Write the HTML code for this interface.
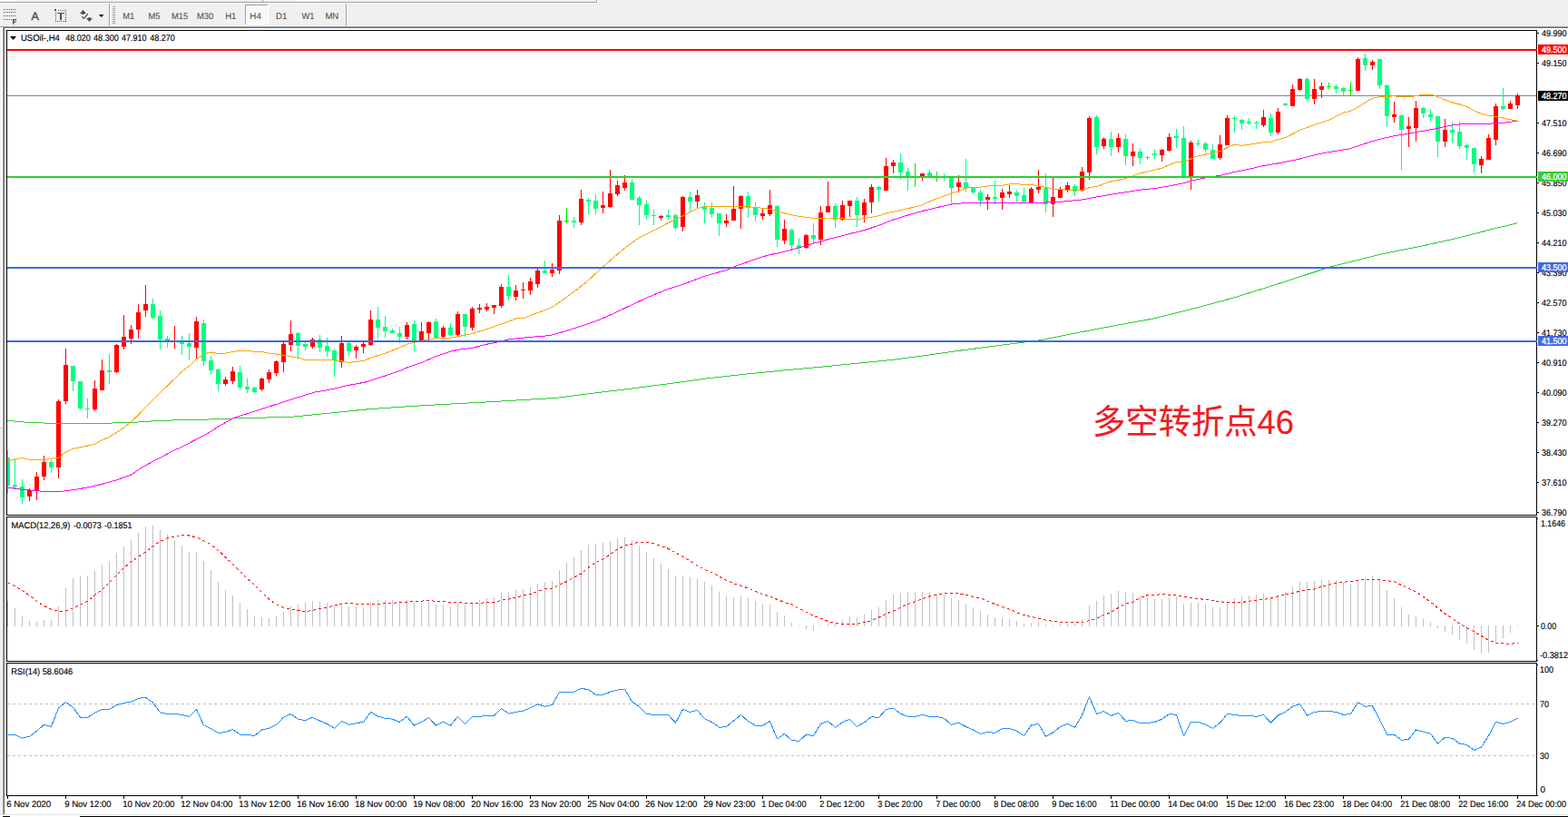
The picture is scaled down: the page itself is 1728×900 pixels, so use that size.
<!DOCTYPE html>
<html><head><meta charset="utf-8"><title>USOil H4</title>
<style>
html,body{margin:0;padding:0;width:1728px;height:900px;overflow:hidden;background:#fff}
body{font-family:"Liberation Sans",sans-serif;position:relative}
text{font-family:"Liberation Sans",sans-serif;white-space:pre}
</style></head><body>
<svg width="1728" height="900" viewBox="0 0 1728 900" style="position:absolute;left:0;top:0" shape-rendering="crispEdges">
<rect x="0" y="0" width="1728" height="900" fill="#fff"/>
<rect x="0" y="0" width="1728" height="29" fill="#f0f0f0"/>
<rect x="0" y="2" width="658" height="1" fill="#a0a0a0"/>
<rect x="657" y="0" width="1" height="3" fill="#a0a0a0"/>
<rect x="0" y="3" width="659" height="1" fill="#fff"/>
<rect x="658" y="0" width="1" height="3" fill="#fff"/>
<rect x="0" y="0" width="20" height="2" fill="#f8f8f8"/>
<rect x="327" y="0" width="26" height="2" fill="#fafafa"/>
<rect x="289" y="0" width="1" height="2" fill="#a0a0a0"/>
<rect x="0" y="29" width="1728" height="1" fill="#a0a0a0"/>
<rect x="3" y="30" width="1725" height="1" fill="#696969"/>
<rect x="0" y="31" width="3" height="866" fill="#f0f0f0"/>
<rect x="0" y="30" width="3" height="1" fill="#fff"/>
<rect x="3" y="30" width="1" height="867" fill="#a0a0a0"/>
<rect x="4" y="31" width="1" height="866" fill="#696969"/>
<rect x="1" y="31" width="2" height="440" fill="#fafafa"/>
<rect x="0" y="471" width="3" height="1" fill="#c8c8c8"/>
<rect x="0" y="897" width="1728" height="1" fill="#e3e3e3"/>
<rect x="88" y="899" width="1640" height="1" fill="#000"/>
<rect x="3" y="899" width="8" height="1" fill="#000"/>
<rect x="4" y="10" width="1" height="1" fill="#505050"/>
<rect x="6" y="10" width="1" height="1" fill="#505050"/>
<rect x="8" y="10" width="1" height="1" fill="#505050"/>
<rect x="10" y="10" width="1" height="1" fill="#505050"/>
<rect x="12" y="10" width="1" height="1" fill="#505050"/>
<rect x="14" y="10" width="1" height="1" fill="#505050"/>
<rect x="16" y="10" width="1" height="1" fill="#505050"/>
<rect x="4" y="13" width="1" height="1" fill="#505050"/>
<rect x="6" y="13" width="1" height="1" fill="#505050"/>
<rect x="8" y="13" width="1" height="1" fill="#505050"/>
<rect x="10" y="13" width="1" height="1" fill="#505050"/>
<rect x="12" y="13" width="1" height="1" fill="#505050"/>
<rect x="14" y="13" width="1" height="1" fill="#505050"/>
<rect x="16" y="13" width="1" height="1" fill="#505050"/>
<rect x="4" y="17" width="1" height="1" fill="#505050"/>
<rect x="6" y="17" width="1" height="1" fill="#505050"/>
<rect x="8" y="17" width="1" height="1" fill="#505050"/>
<rect x="10" y="17" width="1" height="1" fill="#505050"/>
<rect x="12" y="17" width="1" height="1" fill="#505050"/>
<rect x="14" y="17" width="1" height="1" fill="#505050"/>
<rect x="16" y="17" width="1" height="1" fill="#505050"/>
<rect x="4" y="21" width="1" height="1" fill="#505050"/>
<rect x="6" y="21" width="1" height="1" fill="#505050"/>
<rect x="8" y="21" width="1" height="1" fill="#505050"/>
<rect x="10" y="21" width="1" height="1" fill="#505050"/>
<rect x="12" y="21" width="1" height="1" fill="#505050"/>
<path d="M14 21h4.2v1.3h-2.8v1.2h2.4v1.2h-2.4v2.1H14z" fill="#505050" shape-rendering="auto"/>
<rect x="60" y="10" width="2" height="2" fill="#505050"/>
<rect x="64" y="11" width="1" height="1" fill="#505050"/>
<rect x="66" y="11" width="1" height="1" fill="#505050"/>
<rect x="68" y="11" width="1" height="1" fill="#505050"/>
<rect x="70" y="11" width="1" height="1" fill="#505050"/>
<rect x="72" y="11" width="1" height="1" fill="#505050"/>
<rect x="61" y="13" width="1" height="1" fill="#505050"/>
<rect x="72" y="13" width="1" height="1" fill="#505050"/>
<rect x="61" y="15" width="1" height="1" fill="#505050"/>
<rect x="72" y="15" width="1" height="1" fill="#505050"/>
<rect x="61" y="17" width="1" height="1" fill="#505050"/>
<rect x="72" y="17" width="1" height="1" fill="#505050"/>
<rect x="61" y="19" width="1" height="1" fill="#505050"/>
<rect x="72" y="19" width="1" height="1" fill="#505050"/>
<rect x="61" y="21" width="1" height="1" fill="#505050"/>
<rect x="72" y="21" width="1" height="1" fill="#505050"/>
<rect x="61" y="23" width="1" height="1" fill="#505050"/>
<rect x="72" y="23" width="1" height="1" fill="#505050"/>
<rect x="63" y="23" width="1" height="1" fill="#505050"/>
<rect x="65" y="23" width="1" height="1" fill="#505050"/>
<rect x="67" y="23" width="1" height="1" fill="#505050"/>
<rect x="69" y="23" width="1" height="1" fill="#505050"/>
<rect x="71" y="23" width="1" height="1" fill="#505050"/>
<rect x="63" y="14" width="8" height="1" fill="#505050"/>
<rect x="66" y="14" width="2" height="8" fill="#505050"/>
<g shape-rendering="auto" fill="#505050"><path d="M91.5 10.8L95 15H88z"/><rect x="90.2" y="15" width="2.6" height="1"/><path d="M98.5 24L95 20.1h7z"/><rect x="97.3" y="19.2" width="2.6" height="1"/><path d="M90.3 18.3l2.3 2.1 4.3-5.3" fill="none" stroke="#505050" stroke-width="1.3"/></g>
<path d="M109 16h5.4l-2.7 3z" fill="#000" shape-rendering="auto"/>
<rect x="120" y="4" width="1" height="25" fill="#a0a0a0"/>
<rect x="121" y="4" width="1" height="25" fill="#fff"/>
<rect x="124" y="7" width="3" height="1" fill="#a0a0a0"/>
<rect x="124" y="9" width="3" height="1" fill="#a0a0a0"/>
<rect x="124" y="11" width="3" height="1" fill="#a0a0a0"/>
<rect x="124" y="13" width="3" height="1" fill="#a0a0a0"/>
<rect x="124" y="15" width="3" height="1" fill="#a0a0a0"/>
<rect x="124" y="17" width="3" height="1" fill="#a0a0a0"/>
<rect x="124" y="19" width="3" height="1" fill="#a0a0a0"/>
<rect x="124" y="21" width="3" height="1" fill="#a0a0a0"/>
<rect x="124" y="23" width="3" height="1" fill="#a0a0a0"/>
<rect x="124" y="25" width="3" height="1" fill="#a0a0a0"/>
<rect x="381" y="4" width="1" height="25" fill="#a0a0a0"/>
<rect x="382" y="4" width="1" height="25" fill="#fff"/>
<rect x="270" y="5" width="26" height="22" fill="#f8f8f8"/>
<rect x="270" y="5" width="26" height="1" fill="#a0a0a0"/>
<rect x="270" y="5" width="1" height="22" fill="#a0a0a0"/>
<rect x="270" y="26" width="26" height="1" fill="#fff"/>
<rect x="295" y="5" width="1" height="22" fill="#fff"/>
<rect x="7" y="33" width="1687" height="1" fill="#000"/>
<rect x="7" y="567" width="1687" height="1" fill="#000"/>
<rect x="7" y="569" width="1687" height="1" fill="#000"/>
<rect x="7" y="728" width="1687" height="1" fill="#000"/>
<rect x="7" y="730" width="1687" height="1" fill="#000"/>
<rect x="7" y="876" width="1687" height="1" fill="#000"/>
<rect x="7" y="33" width="1" height="535" fill="#000"/>
<rect x="1693" y="33" width="1" height="535" fill="#000"/>
<rect x="7" y="569" width="1" height="160" fill="#000"/>
<rect x="1693" y="569" width="1" height="160" fill="#000"/>
<rect x="7" y="730" width="1" height="147" fill="#000"/>
<rect x="1693" y="730" width="1" height="147" fill="#000"/>
<rect x="1694" y="876" width="1" height="1" fill="#000"/>
<clipPath id="cm"><rect x="8" y="34" width="1685" height="533"/></clipPath>
<rect x="8" y="105" width="1685" height="1" fill="#778899"/>
<g clip-path="url(#cm)">
<rect x="8" y="496" width="1" height="48" fill="#00ff7f"/>
<rect x="6" y="504" width="5" height="31" fill="#00ff7f"/>
<rect x="16" y="506" width="1" height="32" fill="#00ff7f"/>
<rect x="14" y="534" width="5" height="2" fill="#00ff7f"/>
<rect x="24" y="528" width="1" height="27" fill="#00ff7f"/>
<rect x="22" y="536" width="5" height="12" fill="#00ff7f"/>
<rect x="32" y="538" width="1" height="14" fill="#ff0000"/>
<rect x="30" y="540" width="5" height="7" fill="#ff0000"/>
<rect x="40" y="520" width="1" height="31" fill="#ff0000"/>
<rect x="38" y="525" width="5" height="15" fill="#ff0000"/>
<rect x="48" y="502" width="1" height="27" fill="#ff0000"/>
<rect x="46" y="509" width="5" height="16" fill="#ff0000"/>
<rect x="56" y="507" width="1" height="14" fill="#00ff7f"/>
<rect x="54" y="509" width="5" height="6" fill="#00ff7f"/>
<rect x="64" y="440" width="1" height="87" fill="#ff0000"/>
<rect x="62" y="442" width="5" height="73" fill="#ff0000"/>
<rect x="72" y="384" width="1" height="61" fill="#ff0000"/>
<rect x="70" y="402" width="5" height="40" fill="#ff0000"/>
<rect x="80" y="403" width="1" height="28" fill="#00ff7f"/>
<rect x="78" y="403" width="5" height="17" fill="#00ff7f"/>
<rect x="88" y="420" width="1" height="31" fill="#00ff7f"/>
<rect x="86" y="420" width="5" height="30" fill="#00ff7f"/>
<rect x="96" y="439" width="1" height="22" fill="#00ff7f"/>
<rect x="94" y="450" width="5" height="1" fill="#00ff7f"/>
<rect x="104" y="419" width="1" height="34" fill="#ff0000"/>
<rect x="102" y="428" width="5" height="23" fill="#ff0000"/>
<rect x="112" y="396" width="1" height="34" fill="#ff0000"/>
<rect x="110" y="408" width="5" height="22" fill="#ff0000"/>
<rect x="120" y="390" width="1" height="33" fill="#00ff7f"/>
<rect x="118" y="408" width="5" height="2" fill="#00ff7f"/>
<rect x="128" y="379" width="1" height="32" fill="#ff0000"/>
<rect x="126" y="380" width="5" height="30" fill="#ff0000"/>
<rect x="136" y="347" width="1" height="38" fill="#ff0000"/>
<rect x="134" y="371" width="5" height="11" fill="#ff0000"/>
<rect x="144" y="358" width="1" height="21" fill="#ff0000"/>
<rect x="142" y="363" width="5" height="10" fill="#ff0000"/>
<rect x="152" y="335" width="1" height="38" fill="#ff0000"/>
<rect x="150" y="344" width="5" height="19" fill="#ff0000"/>
<rect x="160" y="314" width="1" height="35" fill="#ff0000"/>
<rect x="158" y="335" width="5" height="7" fill="#ff0000"/>
<rect x="168" y="329" width="1" height="23" fill="#00ff7f"/>
<rect x="166" y="335" width="5" height="15" fill="#00ff7f"/>
<rect x="176" y="342" width="1" height="43" fill="#00ff7f"/>
<rect x="174" y="348" width="5" height="26" fill="#00ff7f"/>
<rect x="184" y="370" width="1" height="13" fill="#00ff7f"/>
<rect x="182" y="373" width="5" height="2" fill="#00ff7f"/>
<rect x="192" y="359" width="1" height="25" fill="#ff0000"/>
<rect x="190" y="375" width="5" height="2" fill="#ff0000"/>
<rect x="200" y="370" width="1" height="21" fill="#00ff7f"/>
<rect x="198" y="377" width="5" height="2" fill="#00ff7f"/>
<rect x="208" y="367" width="1" height="30" fill="#00ff7f"/>
<rect x="206" y="378" width="5" height="4" fill="#00ff7f"/>
<rect x="216" y="349" width="1" height="46" fill="#ff0000"/>
<rect x="214" y="354" width="5" height="29" fill="#ff0000"/>
<rect x="224" y="352" width="1" height="51" fill="#00ff7f"/>
<rect x="222" y="356" width="5" height="42" fill="#00ff7f"/>
<rect x="232" y="392" width="1" height="21" fill="#00ff7f"/>
<rect x="230" y="397" width="5" height="11" fill="#00ff7f"/>
<rect x="240" y="406" width="1" height="25" fill="#00ff7f"/>
<rect x="238" y="407" width="5" height="16" fill="#00ff7f"/>
<rect x="248" y="415" width="1" height="10" fill="#ff0000"/>
<rect x="246" y="418" width="5" height="5" fill="#ff0000"/>
<rect x="256" y="404" width="1" height="19" fill="#ff0000"/>
<rect x="254" y="409" width="5" height="11" fill="#ff0000"/>
<rect x="264" y="403" width="1" height="27" fill="#00ff7f"/>
<rect x="262" y="410" width="5" height="17" fill="#00ff7f"/>
<rect x="272" y="417" width="1" height="16" fill="#00ff7f"/>
<rect x="270" y="426" width="5" height="3" fill="#00ff7f"/>
<rect x="280" y="426" width="1" height="7" fill="#00ff7f"/>
<rect x="278" y="427" width="5" height="5" fill="#00ff7f"/>
<rect x="288" y="416" width="1" height="15" fill="#ff0000"/>
<rect x="286" y="417" width="5" height="12" fill="#ff0000"/>
<rect x="296" y="407" width="1" height="15" fill="#ff0000"/>
<rect x="294" y="410" width="5" height="8" fill="#ff0000"/>
<rect x="304" y="397" width="1" height="17" fill="#ff0000"/>
<rect x="302" y="398" width="5" height="13" fill="#ff0000"/>
<rect x="312" y="377" width="1" height="33" fill="#ff0000"/>
<rect x="310" y="379" width="5" height="20" fill="#ff0000"/>
<rect x="320" y="353" width="1" height="34" fill="#ff0000"/>
<rect x="318" y="368" width="5" height="12" fill="#ff0000"/>
<rect x="328" y="366" width="1" height="28" fill="#00ff7f"/>
<rect x="326" y="367" width="5" height="14" fill="#00ff7f"/>
<rect x="336" y="377" width="1" height="9" fill="#00ff7f"/>
<rect x="334" y="379" width="5" height="3" fill="#00ff7f"/>
<rect x="344" y="372" width="1" height="12" fill="#ff0000"/>
<rect x="342" y="374" width="5" height="8" fill="#ff0000"/>
<rect x="352" y="369" width="1" height="19" fill="#00ff7f"/>
<rect x="350" y="374" width="5" height="9" fill="#00ff7f"/>
<rect x="360" y="372" width="1" height="21" fill="#00ff7f"/>
<rect x="358" y="381" width="5" height="6" fill="#00ff7f"/>
<rect x="368" y="384" width="1" height="31" fill="#00ff7f"/>
<rect x="366" y="386" width="5" height="11" fill="#00ff7f"/>
<rect x="376" y="370" width="1" height="35" fill="#ff0000"/>
<rect x="374" y="378" width="5" height="21" fill="#ff0000"/>
<rect x="384" y="377" width="1" height="15" fill="#00ff7f"/>
<rect x="382" y="378" width="5" height="9" fill="#00ff7f"/>
<rect x="392" y="380" width="1" height="15" fill="#ff0000"/>
<rect x="390" y="382" width="5" height="4" fill="#ff0000"/>
<rect x="400" y="377" width="1" height="12" fill="#ff0000"/>
<rect x="398" y="379" width="5" height="3" fill="#ff0000"/>
<rect x="408" y="342" width="1" height="39" fill="#ff0000"/>
<rect x="406" y="352" width="5" height="28" fill="#ff0000"/>
<rect x="416" y="338" width="1" height="35" fill="#00ff7f"/>
<rect x="414" y="352" width="5" height="9" fill="#00ff7f"/>
<rect x="424" y="348" width="1" height="24" fill="#00ff7f"/>
<rect x="422" y="360" width="5" height="5" fill="#00ff7f"/>
<rect x="432" y="362" width="1" height="5" fill="#00ff7f"/>
<rect x="430" y="364" width="5" height="3" fill="#00ff7f"/>
<rect x="440" y="360" width="1" height="18" fill="#00ff7f"/>
<rect x="438" y="367" width="5" height="4" fill="#00ff7f"/>
<rect x="448" y="355" width="1" height="19" fill="#ff0000"/>
<rect x="446" y="358" width="5" height="13" fill="#ff0000"/>
<rect x="456" y="353" width="1" height="34" fill="#00ff7f"/>
<rect x="454" y="357" width="5" height="19" fill="#00ff7f"/>
<rect x="464" y="355" width="1" height="22" fill="#ff0000"/>
<rect x="462" y="365" width="5" height="10" fill="#ff0000"/>
<rect x="472" y="354" width="1" height="21" fill="#ff0000"/>
<rect x="470" y="355" width="5" height="12" fill="#ff0000"/>
<rect x="480" y="351" width="1" height="22" fill="#00ff7f"/>
<rect x="478" y="354" width="5" height="18" fill="#00ff7f"/>
<rect x="488" y="359" width="1" height="13" fill="#ff0000"/>
<rect x="486" y="361" width="5" height="10" fill="#ff0000"/>
<rect x="496" y="356" width="1" height="14" fill="#00ff7f"/>
<rect x="494" y="361" width="5" height="8" fill="#00ff7f"/>
<rect x="504" y="343" width="1" height="27" fill="#ff0000"/>
<rect x="502" y="346" width="5" height="23" fill="#ff0000"/>
<rect x="512" y="346" width="1" height="25" fill="#00ff7f"/>
<rect x="510" y="346" width="5" height="14" fill="#00ff7f"/>
<rect x="520" y="338" width="1" height="26" fill="#ff0000"/>
<rect x="518" y="340" width="5" height="21" fill="#ff0000"/>
<rect x="528" y="335" width="1" height="10" fill="#ff0000"/>
<rect x="526" y="339" width="5" height="2" fill="#ff0000"/>
<rect x="536" y="334" width="1" height="9" fill="#ff0000"/>
<rect x="534" y="338" width="5" height="3" fill="#ff0000"/>
<rect x="544" y="336" width="1" height="10" fill="#ff0000"/>
<rect x="542" y="336" width="5" height="3" fill="#ff0000"/>
<rect x="552" y="313" width="1" height="26" fill="#ff0000"/>
<rect x="550" y="316" width="5" height="21" fill="#ff0000"/>
<rect x="560" y="303" width="1" height="28" fill="#00ff7f"/>
<rect x="558" y="316" width="5" height="10" fill="#00ff7f"/>
<rect x="568" y="314" width="1" height="17" fill="#ff0000"/>
<rect x="566" y="320" width="5" height="7" fill="#ff0000"/>
<rect x="576" y="311" width="1" height="18" fill="#ff0000"/>
<rect x="574" y="319" width="5" height="1" fill="#ff0000"/>
<rect x="584" y="306" width="1" height="19" fill="#ff0000"/>
<rect x="582" y="310" width="5" height="10" fill="#ff0000"/>
<rect x="592" y="296" width="1" height="21" fill="#ff0000"/>
<rect x="590" y="298" width="5" height="15" fill="#ff0000"/>
<rect x="600" y="287" width="1" height="14" fill="#00ff7f"/>
<rect x="598" y="298" width="5" height="3" fill="#00ff7f"/>
<rect x="608" y="290" width="1" height="15" fill="#ff0000"/>
<rect x="606" y="297" width="5" height="4" fill="#ff0000"/>
<rect x="616" y="237" width="1" height="65" fill="#ff0000"/>
<rect x="614" y="243" width="5" height="55" fill="#ff0000"/>
<rect x="624" y="229" width="1" height="17" fill="#00e600"/>
<rect x="622" y="243" width="5" height="1" fill="#00e600"/>
<rect x="632" y="239" width="1" height="12" fill="#00ff7f"/>
<rect x="630" y="243" width="5" height="2" fill="#00ff7f"/>
<rect x="640" y="209" width="1" height="39" fill="#ff0000"/>
<rect x="638" y="219" width="5" height="26" fill="#ff0000"/>
<rect x="648" y="218" width="1" height="18" fill="#00ff7f"/>
<rect x="646" y="220" width="5" height="2" fill="#00ff7f"/>
<rect x="656" y="214" width="1" height="22" fill="#00ff7f"/>
<rect x="654" y="221" width="5" height="9" fill="#00ff7f"/>
<rect x="664" y="211" width="1" height="24" fill="#ff0000"/>
<rect x="662" y="226" width="5" height="3" fill="#ff0000"/>
<rect x="672" y="187" width="1" height="42" fill="#ff0000"/>
<rect x="670" y="213" width="5" height="15" fill="#ff0000"/>
<rect x="680" y="199" width="1" height="17" fill="#ff0000"/>
<rect x="678" y="204" width="5" height="10" fill="#ff0000"/>
<rect x="688" y="193" width="1" height="17" fill="#ff0000"/>
<rect x="686" y="201" width="5" height="6" fill="#ff0000"/>
<rect x="696" y="197" width="1" height="23" fill="#00ff7f"/>
<rect x="694" y="201" width="5" height="19" fill="#00ff7f"/>
<rect x="704" y="216" width="1" height="32" fill="#00ff7f"/>
<rect x="702" y="218" width="5" height="8" fill="#00ff7f"/>
<rect x="712" y="221" width="1" height="21" fill="#00ff7f"/>
<rect x="710" y="225" width="5" height="12" fill="#00ff7f"/>
<rect x="720" y="231" width="1" height="17" fill="#00ff7f"/>
<rect x="718" y="237" width="5" height="1" fill="#00ff7f"/>
<rect x="728" y="237" width="1" height="6" fill="#ff0000"/>
<rect x="726" y="238" width="5" height="2" fill="#ff0000"/>
<rect x="736" y="231" width="1" height="11" fill="#00ff7f"/>
<rect x="734" y="237" width="5" height="2" fill="#00ff7f"/>
<rect x="744" y="235" width="1" height="18" fill="#00ff7f"/>
<rect x="742" y="237" width="5" height="14" fill="#00ff7f"/>
<rect x="752" y="216" width="1" height="39" fill="#ff0000"/>
<rect x="750" y="217" width="5" height="33" fill="#ff0000"/>
<rect x="760" y="211" width="1" height="22" fill="#00ff7f"/>
<rect x="758" y="217" width="5" height="5" fill="#00ff7f"/>
<rect x="768" y="209" width="1" height="20" fill="#ff0000"/>
<rect x="766" y="215" width="5" height="7" fill="#ff0000"/>
<rect x="776" y="223" width="1" height="23" fill="#00ff7f"/>
<rect x="774" y="227" width="5" height="4" fill="#00ff7f"/>
<rect x="784" y="223" width="1" height="17" fill="#00ff7f"/>
<rect x="782" y="229" width="5" height="7" fill="#00ff7f"/>
<rect x="792" y="235" width="1" height="25" fill="#00ff7f"/>
<rect x="790" y="235" width="5" height="11" fill="#00ff7f"/>
<rect x="800" y="236" width="1" height="14" fill="#ff0000"/>
<rect x="798" y="243" width="5" height="3" fill="#ff0000"/>
<rect x="808" y="205" width="1" height="38" fill="#ff0000"/>
<rect x="806" y="230" width="5" height="13" fill="#ff0000"/>
<rect x="816" y="215" width="1" height="37" fill="#ff0000"/>
<rect x="814" y="216" width="5" height="14" fill="#ff0000"/>
<rect x="824" y="212" width="1" height="28" fill="#00ff7f"/>
<rect x="822" y="216" width="5" height="13" fill="#00ff7f"/>
<rect x="832" y="223" width="1" height="21" fill="#00ff7f"/>
<rect x="830" y="228" width="5" height="9" fill="#00ff7f"/>
<rect x="840" y="230" width="1" height="12" fill="#ff0000"/>
<rect x="838" y="235" width="5" height="3" fill="#ff0000"/>
<rect x="848" y="209" width="1" height="29" fill="#ff0000"/>
<rect x="846" y="226" width="5" height="10" fill="#ff0000"/>
<rect x="856" y="226" width="1" height="46" fill="#00ff7f"/>
<rect x="854" y="227" width="5" height="37" fill="#00ff7f"/>
<rect x="864" y="242" width="1" height="27" fill="#ff0000"/>
<rect x="862" y="252" width="5" height="13" fill="#ff0000"/>
<rect x="872" y="252" width="1" height="23" fill="#00ff7f"/>
<rect x="870" y="253" width="5" height="17" fill="#00ff7f"/>
<rect x="880" y="262" width="1" height="18" fill="#00ff7f"/>
<rect x="878" y="270" width="5" height="3" fill="#00ff7f"/>
<rect x="888" y="258" width="1" height="16" fill="#ff0000"/>
<rect x="886" y="259" width="5" height="14" fill="#ff0000"/>
<rect x="896" y="246" width="1" height="23" fill="#00ff7f"/>
<rect x="894" y="259" width="5" height="4" fill="#00ff7f"/>
<rect x="904" y="227" width="1" height="43" fill="#ff0000"/>
<rect x="902" y="234" width="5" height="30" fill="#ff0000"/>
<rect x="912" y="200" width="1" height="34" fill="#ff0000"/>
<rect x="910" y="227" width="5" height="7" fill="#ff0000"/>
<rect x="920" y="224" width="1" height="27" fill="#00ff7f"/>
<rect x="918" y="227" width="5" height="15" fill="#00ff7f"/>
<rect x="928" y="221" width="1" height="22" fill="#ff0000"/>
<rect x="926" y="226" width="5" height="16" fill="#ff0000"/>
<rect x="936" y="221" width="1" height="18" fill="#ff0000"/>
<rect x="934" y="221" width="5" height="6" fill="#ff0000"/>
<rect x="944" y="217" width="1" height="33" fill="#00ff7f"/>
<rect x="942" y="221" width="5" height="16" fill="#00ff7f"/>
<rect x="952" y="219" width="1" height="26" fill="#ff0000"/>
<rect x="950" y="223" width="5" height="14" fill="#ff0000"/>
<rect x="960" y="203" width="1" height="32" fill="#ff0000"/>
<rect x="958" y="206" width="5" height="17" fill="#ff0000"/>
<rect x="968" y="205" width="1" height="17" fill="#00ff7f"/>
<rect x="966" y="206" width="5" height="3" fill="#00ff7f"/>
<rect x="976" y="174" width="1" height="36" fill="#ff0000"/>
<rect x="974" y="183" width="5" height="27" fill="#ff0000"/>
<rect x="984" y="176" width="1" height="15" fill="#ff0000"/>
<rect x="982" y="179" width="5" height="4" fill="#ff0000"/>
<rect x="992" y="169" width="1" height="29" fill="#00ff7f"/>
<rect x="990" y="179" width="5" height="11" fill="#00ff7f"/>
<rect x="1000" y="185" width="1" height="25" fill="#00ff7f"/>
<rect x="998" y="189" width="5" height="6" fill="#00ff7f"/>
<rect x="1008" y="180" width="1" height="26" fill="#00e600"/>
<rect x="1006" y="195" width="5" height="1" fill="#00e600"/>
<rect x="1016" y="191" width="1" height="8" fill="#ff0000"/>
<rect x="1014" y="191" width="5" height="3" fill="#ff0000"/>
<rect x="1024" y="187" width="1" height="9" fill="#00ff7f"/>
<rect x="1022" y="190" width="5" height="4" fill="#00ff7f"/>
<rect x="1032" y="189" width="1" height="11" fill="#00e600"/>
<rect x="1030" y="195" width="5" height="1" fill="#00e600"/>
<rect x="1040" y="191" width="1" height="9" fill="#00ff7f"/>
<rect x="1038" y="195" width="5" height="1" fill="#00ff7f"/>
<rect x="1048" y="195" width="1" height="28" fill="#00ff7f"/>
<rect x="1046" y="195" width="5" height="12" fill="#00ff7f"/>
<rect x="1056" y="193" width="1" height="19" fill="#ff0000"/>
<rect x="1054" y="201" width="5" height="5" fill="#ff0000"/>
<rect x="1064" y="175" width="1" height="36" fill="#00ff7f"/>
<rect x="1062" y="201" width="5" height="6" fill="#00ff7f"/>
<rect x="1072" y="206" width="1" height="8" fill="#00ff7f"/>
<rect x="1070" y="207" width="5" height="5" fill="#00ff7f"/>
<rect x="1080" y="209" width="1" height="18" fill="#00ff7f"/>
<rect x="1078" y="212" width="5" height="9" fill="#00ff7f"/>
<rect x="1088" y="214" width="1" height="17" fill="#ff0000"/>
<rect x="1086" y="217" width="5" height="3" fill="#ff0000"/>
<rect x="1096" y="199" width="1" height="26" fill="#00ff7f"/>
<rect x="1094" y="217" width="5" height="2" fill="#00ff7f"/>
<rect x="1104" y="208" width="1" height="23" fill="#ff0000"/>
<rect x="1102" y="212" width="5" height="6" fill="#ff0000"/>
<rect x="1112" y="204" width="1" height="14" fill="#ff0000"/>
<rect x="1110" y="211" width="5" height="3" fill="#ff0000"/>
<rect x="1120" y="209" width="1" height="13" fill="#00ff7f"/>
<rect x="1118" y="212" width="5" height="4" fill="#00ff7f"/>
<rect x="1128" y="207" width="1" height="16" fill="#00ff7f"/>
<rect x="1126" y="215" width="5" height="7" fill="#00ff7f"/>
<rect x="1136" y="206" width="1" height="17" fill="#ff0000"/>
<rect x="1134" y="208" width="5" height="15" fill="#ff0000"/>
<rect x="1144" y="187" width="1" height="26" fill="#ff0000"/>
<rect x="1142" y="206" width="5" height="3" fill="#ff0000"/>
<rect x="1152" y="191" width="1" height="43" fill="#00ff7f"/>
<rect x="1150" y="207" width="5" height="18" fill="#00ff7f"/>
<rect x="1160" y="195" width="1" height="44" fill="#ff0000"/>
<rect x="1158" y="217" width="5" height="8" fill="#ff0000"/>
<rect x="1168" y="206" width="1" height="12" fill="#ff0000"/>
<rect x="1166" y="209" width="5" height="9" fill="#ff0000"/>
<rect x="1176" y="201" width="1" height="11" fill="#ff0000"/>
<rect x="1174" y="204" width="5" height="5" fill="#ff0000"/>
<rect x="1184" y="203" width="1" height="13" fill="#00ff7f"/>
<rect x="1182" y="205" width="5" height="5" fill="#00ff7f"/>
<rect x="1192" y="184" width="1" height="27" fill="#ff0000"/>
<rect x="1190" y="189" width="5" height="21" fill="#ff0000"/>
<rect x="1200" y="128" width="1" height="70" fill="#ff0000"/>
<rect x="1198" y="130" width="5" height="60" fill="#ff0000"/>
<rect x="1208" y="127" width="1" height="43" fill="#00ff7f"/>
<rect x="1206" y="129" width="5" height="33" fill="#00ff7f"/>
<rect x="1216" y="151" width="1" height="13" fill="#ff0000"/>
<rect x="1214" y="153" width="5" height="8" fill="#ff0000"/>
<rect x="1224" y="145" width="1" height="27" fill="#00ff7f"/>
<rect x="1222" y="153" width="5" height="9" fill="#00ff7f"/>
<rect x="1232" y="147" width="1" height="21" fill="#ff0000"/>
<rect x="1230" y="152" width="5" height="10" fill="#ff0000"/>
<rect x="1240" y="148" width="1" height="34" fill="#00ff7f"/>
<rect x="1238" y="153" width="5" height="19" fill="#00ff7f"/>
<rect x="1248" y="158" width="1" height="25" fill="#ff0000"/>
<rect x="1246" y="167" width="5" height="5" fill="#ff0000"/>
<rect x="1256" y="163" width="1" height="18" fill="#00ff7f"/>
<rect x="1254" y="167" width="5" height="7" fill="#00ff7f"/>
<rect x="1264" y="172" width="1" height="4" fill="#00ff7f"/>
<rect x="1262" y="173" width="5" height="1" fill="#00ff7f"/>
<rect x="1272" y="164" width="1" height="11" fill="#00ff7f"/>
<rect x="1270" y="169" width="5" height="2" fill="#00ff7f"/>
<rect x="1280" y="164" width="1" height="14" fill="#ff0000"/>
<rect x="1278" y="165" width="5" height="6" fill="#ff0000"/>
<rect x="1288" y="147" width="1" height="20" fill="#ff0000"/>
<rect x="1286" y="151" width="5" height="15" fill="#ff0000"/>
<rect x="1296" y="142" width="1" height="21" fill="#00ff7f"/>
<rect x="1294" y="150" width="5" height="2" fill="#00ff7f"/>
<rect x="1304" y="139" width="1" height="56" fill="#00ff7f"/>
<rect x="1302" y="152" width="5" height="43" fill="#00ff7f"/>
<rect x="1312" y="155" width="1" height="54" fill="#ff0000"/>
<rect x="1310" y="157" width="5" height="38" fill="#ff0000"/>
<rect x="1320" y="154" width="1" height="7" fill="#00ff7f"/>
<rect x="1318" y="158" width="5" height="1" fill="#00ff7f"/>
<rect x="1328" y="156" width="1" height="12" fill="#00ff7f"/>
<rect x="1326" y="158" width="5" height="7" fill="#00ff7f"/>
<rect x="1336" y="159" width="1" height="16" fill="#00ff7f"/>
<rect x="1334" y="165" width="5" height="10" fill="#00ff7f"/>
<rect x="1344" y="149" width="1" height="27" fill="#ff0000"/>
<rect x="1342" y="159" width="5" height="15" fill="#ff0000"/>
<rect x="1352" y="127" width="1" height="33" fill="#ff0000"/>
<rect x="1350" y="130" width="5" height="30" fill="#ff0000"/>
<rect x="1360" y="128" width="1" height="18" fill="#00ff7f"/>
<rect x="1358" y="130" width="5" height="1" fill="#00ff7f"/>
<rect x="1368" y="131" width="1" height="12" fill="#00ff7f"/>
<rect x="1366" y="132" width="5" height="4" fill="#00ff7f"/>
<rect x="1376" y="130" width="1" height="8" fill="#00ff7f"/>
<rect x="1374" y="134" width="5" height="2" fill="#00ff7f"/>
<rect x="1384" y="133" width="1" height="9" fill="#00ff7f"/>
<rect x="1382" y="135" width="5" height="1" fill="#00ff7f"/>
<rect x="1392" y="121" width="1" height="19" fill="#ff0000"/>
<rect x="1390" y="129" width="5" height="9" fill="#ff0000"/>
<rect x="1400" y="125" width="1" height="25" fill="#00ff7f"/>
<rect x="1398" y="130" width="5" height="16" fill="#00ff7f"/>
<rect x="1408" y="119" width="1" height="29" fill="#ff0000"/>
<rect x="1406" y="123" width="5" height="23" fill="#ff0000"/>
<rect x="1416" y="113" width="1" height="4" fill="#00ff7f"/>
<rect x="1414" y="114" width="5" height="2" fill="#00ff7f"/>
<rect x="1424" y="93" width="1" height="24" fill="#ff0000"/>
<rect x="1422" y="98" width="5" height="19" fill="#ff0000"/>
<rect x="1432" y="86" width="1" height="14" fill="#ff0000"/>
<rect x="1430" y="87" width="5" height="12" fill="#ff0000"/>
<rect x="1440" y="85" width="1" height="26" fill="#00ff7f"/>
<rect x="1438" y="87" width="5" height="22" fill="#00ff7f"/>
<rect x="1448" y="87" width="1" height="28" fill="#ff0000"/>
<rect x="1446" y="98" width="5" height="11" fill="#ff0000"/>
<rect x="1456" y="91" width="1" height="17" fill="#ff0000"/>
<rect x="1454" y="95" width="5" height="4" fill="#ff0000"/>
<rect x="1464" y="91" width="1" height="7" fill="#00e600"/>
<rect x="1462" y="95" width="5" height="1" fill="#00e600"/>
<rect x="1472" y="93" width="1" height="10" fill="#00ff7f"/>
<rect x="1470" y="95" width="5" height="3" fill="#00ff7f"/>
<rect x="1480" y="96" width="1" height="10" fill="#00ff7f"/>
<rect x="1478" y="97" width="5" height="4" fill="#00ff7f"/>
<rect x="1488" y="90" width="1" height="15" fill="#00e600"/>
<rect x="1486" y="99" width="5" height="1" fill="#00e600"/>
<rect x="1496" y="63" width="1" height="37" fill="#ff0000"/>
<rect x="1494" y="65" width="5" height="35" fill="#ff0000"/>
<rect x="1504" y="59" width="1" height="19" fill="#00ff7f"/>
<rect x="1502" y="64" width="5" height="8" fill="#00ff7f"/>
<rect x="1512" y="66" width="1" height="11" fill="#ff0000"/>
<rect x="1510" y="68" width="5" height="4" fill="#ff0000"/>
<rect x="1520" y="65" width="1" height="33" fill="#00ff7f"/>
<rect x="1518" y="65" width="5" height="29" fill="#00ff7f"/>
<rect x="1528" y="93" width="1" height="47" fill="#00ff7f"/>
<rect x="1526" y="94" width="5" height="34" fill="#00ff7f"/>
<rect x="1536" y="112" width="1" height="23" fill="#ff0000"/>
<rect x="1534" y="126" width="5" height="3" fill="#ff0000"/>
<rect x="1544" y="126" width="1" height="61" fill="#00ff7f"/>
<rect x="1542" y="127" width="5" height="16" fill="#00ff7f"/>
<rect x="1552" y="129" width="1" height="33" fill="#ff0000"/>
<rect x="1550" y="139" width="5" height="3" fill="#ff0000"/>
<rect x="1560" y="111" width="1" height="45" fill="#ff0000"/>
<rect x="1558" y="119" width="5" height="22" fill="#ff0000"/>
<rect x="1568" y="118" width="1" height="12" fill="#00ff7f"/>
<rect x="1566" y="119" width="5" height="6" fill="#00ff7f"/>
<rect x="1576" y="121" width="1" height="13" fill="#00ff7f"/>
<rect x="1574" y="126" width="5" height="3" fill="#00ff7f"/>
<rect x="1584" y="128" width="1" height="45" fill="#00ff7f"/>
<rect x="1582" y="128" width="5" height="28" fill="#00ff7f"/>
<rect x="1592" y="131" width="1" height="31" fill="#ff0000"/>
<rect x="1590" y="143" width="5" height="13" fill="#ff0000"/>
<rect x="1600" y="135" width="1" height="23" fill="#00ff7f"/>
<rect x="1598" y="143" width="5" height="3" fill="#00ff7f"/>
<rect x="1608" y="134" width="1" height="30" fill="#00ff7f"/>
<rect x="1606" y="145" width="5" height="16" fill="#00ff7f"/>
<rect x="1616" y="158" width="1" height="18" fill="#00ff7f"/>
<rect x="1614" y="160" width="5" height="3" fill="#00ff7f"/>
<rect x="1624" y="163" width="1" height="27" fill="#00ff7f"/>
<rect x="1622" y="163" width="5" height="18" fill="#00ff7f"/>
<rect x="1632" y="172" width="1" height="19" fill="#ff0000"/>
<rect x="1630" y="175" width="5" height="7" fill="#ff0000"/>
<rect x="1640" y="148" width="1" height="28" fill="#ff0000"/>
<rect x="1638" y="152" width="5" height="24" fill="#ff0000"/>
<rect x="1648" y="114" width="1" height="46" fill="#ff0000"/>
<rect x="1646" y="117" width="5" height="37" fill="#ff0000"/>
<rect x="1656" y="97" width="1" height="24" fill="#00ff7f"/>
<rect x="1654" y="117" width="5" height="3" fill="#00ff7f"/>
<rect x="1664" y="111" width="1" height="9" fill="#ff0000"/>
<rect x="1662" y="114" width="5" height="6" fill="#ff0000"/>
<rect x="1672" y="103" width="1" height="17" fill="#ff0000"/>
<rect x="1670" y="105" width="5" height="11" fill="#ff0000"/>
</g>
<polyline points="8.5,463.3 32.5,465.5 56.5,466.3 112.5,466.3 144.5,465.5 176.5,463.3 224.5,462.2 256.5,461.0 280.5,460.4 322.2,459.2 363.8,455.0 405.5,450.8 447.2,447.9 488.8,445.4 530.5,443.3 572.2,440.8 613.8,438.3 655.5,432.9 697.2,427.9 738.8,422.5 780.5,416.7 822.2,412.1 863.8,407.9 905.5,404.2 947.2,400.0 980.5,396.7 1022.2,391.3 1063.8,385.4 1105.5,380.0 1147.2,374.6 1188.8,366.3 1230.5,358.3 1272.2,350.8 1313.8,340.4 1355.5,329.2 1397.2,316.3 1438.8,302.9 1463.8,294.6 1480.5,290.4 1522.2,280.0 1563.8,271.7 1605.5,262.5 1647.2,251.7 1672.2,245.8" fill="none" stroke="#32cd32" stroke-width="1" shape-rendering="crispEdges" stroke-linejoin="round"/>
<polyline points="8.5,537.0 24.5,539.3 40.5,540.5 48.5,541.7 64.5,541.7 80.5,539.7 96.5,537.0 112.5,533.3 128.5,528.8 144.5,523.0 152.5,517.5 160.5,512.6 176.5,504.2 192.5,495.8 200.5,492.4 214.4,485.0 228.3,477.8 242.2,469.0 256.1,461.1 269.9,456.5 283.8,452.1 297.7,447.6 311.6,443.1 325.5,438.6 339.4,434.3 347.7,431.9 367.2,428.5 381.1,425.0 401.9,421.2 422.7,414.6 440.5,408.6 448.5,405.0 464.5,399.5 480.5,392.5 496.5,387.2 504.5,385.3 520.5,383.3 536.5,379.2 547.2,377.2 560.5,373.8 572.2,372.5 605.5,369.6 613.5,367.5 634.5,361.3 655.5,354.2 669.7,348.3 679.4,343.9 693.3,337.2 714.1,327.5 736.5,318.3 752.5,313.3 776.5,304.2 800.5,297.5 810.5,293.3 824.5,288.3 840.5,282.9 848.5,280.5 856.5,279.2 872.5,275.0 888.5,270.8 904.5,265.8 920.5,261.7 936.5,257.5 952.5,253.7 968.5,248.3 984.5,242.0 1000.5,237.0 1016.5,232.5 1032.5,228.7 1048.5,225.0 1056.5,224.2 1068.5,223.3 1128.5,223.3 1147.2,223.3 1170.5,222.2 1192.5,220.0 1208.5,217.0 1224.5,214.2 1240.5,211.7 1256.5,209.2 1272.5,207.5 1288.5,205.0 1304.5,201.7 1312.5,199.2 1328.5,195.8 1344.5,193.3 1360.5,189.5 1376.5,186.2 1392.5,182.5 1404.5,180.6 1416.5,178.3 1432.5,175.0 1448.5,170.8 1464.5,167.5 1480.5,165.0 1488.5,163.7 1496.5,160.8 1504.5,158.0 1520.5,153.3 1536.5,149.7 1552.5,147.2 1568.5,144.2 1584.5,141.3 1592.5,139.5 1600.5,138.0 1608.5,137.0 1624.5,136.7 1640.5,136.2 1656.5,135.3 1664.5,134.2 1672.5,133.3" fill="none" stroke="#ff00ff" stroke-width="1" shape-rendering="crispEdges" stroke-linejoin="round"/>
<polyline points="8.5,507.7 24.5,504.3 32.5,506.3 48.5,506.3 64.5,504.3 72.5,498.0 80.5,494.3 96.5,491.0 104.5,489.3 112.5,484.7 120.5,481.3 136.5,471.3 144.5,464.7 152.5,457.0 160.5,448.5 168.5,440.5 176.5,432.3 184.5,425.0 192.5,417.3 200.5,409.2 208.5,403.3 216.5,395.8 224.5,390.0 232.5,388.0 240.5,389.5 248.5,389.2 256.5,387.5 264.5,386.3 272.5,386.3 280.5,387.3 288.5,387.5 296.5,389.2 312.5,391.2 328.5,394.2 336.5,396.3 360.5,396.3 376.5,397.8 384.5,399.5 400.5,397.5 408.5,394.2 424.5,389.2 440.5,382.8 448.5,379.2 456.5,377.5 464.5,375.3 472.5,373.3 488.5,372.5 496.5,372.2 504.5,370.8 512.5,369.2 520.5,367.5 536.5,362.5 544.5,359.7 552.5,356.7 560.5,354.2 568.5,351.0 578.0,350.0 593.3,344.2 608.5,338.6 618.3,331.7 630.8,322.6 646.1,310.8 662.7,295.6 680.5,280.0 688.5,273.3 704.5,261.7 720.5,253.8 736.5,245.5 752.5,237.8 768.5,229.7 776.5,227.8 800.5,227.8 824.5,227.8 832.5,228.3 840.5,229.3 848.5,230.3 856.5,232.8 864.5,235.0 880.5,238.3 896.5,240.5 912.5,240.0 928.5,240.8 936.5,241.7 944.5,241.7 952.5,240.5 960.5,239.2 968.5,237.8 976.5,235.0 992.5,231.7 1008.5,227.8 1016.5,225.8 1024.5,222.0 1032.5,218.8 1040.5,215.8 1048.5,213.3 1056.5,210.3 1064.5,207.2 1072.5,206.2 1080.5,206.2 1088.5,205.0 1096.5,204.2 1104.5,204.2 1112.5,203.0 1120.5,202.6 1128.5,203.5 1136.5,203.3 1144.5,205.0 1152.5,206.2 1160.5,208.3 1168.5,208.7 1176.5,209.2 1184.5,210.3 1192.5,209.2 1200.5,206.7 1208.5,205.5 1216.5,202.5 1224.5,200.0 1240.5,196.7 1248.5,193.7 1256.5,190.8 1264.5,189.2 1272.5,187.2 1280.5,185.3 1288.5,181.7 1296.5,178.3 1304.5,178.3 1312.5,175.0 1320.5,171.7 1328.5,170.0 1336.5,168.3 1344.5,166.7 1352.5,162.5 1360.5,159.2 1368.5,160.3 1376.5,159.2 1384.5,158.0 1392.5,156.7 1400.5,156.2 1408.5,153.5 1416.5,151.7 1432.5,143.3 1448.5,137.5 1464.5,132.2 1480.5,124.2 1488.5,122.5 1496.5,118.0 1504.5,113.0 1512.5,108.3 1520.5,106.7 1536.5,105.8 1544.5,106.7 1555.5,106.7 1560.5,105.5 1567.5,104.5 1578.5,104.5 1584.5,106.7 1592.5,110.0 1600.5,113.0 1608.5,115.0 1616.5,117.5 1624.5,121.7 1632.5,125.3 1640.5,127.5 1648.5,128.3 1656.5,130.0 1664.5,131.7 1672.5,133.3" fill="none" stroke="#ffa500" stroke-width="1" shape-rendering="crispEdges" stroke-linejoin="round"/>
<rect x="8" y="54" width="1686" height="2" fill="#ff0000"/>
<rect x="8" y="194" width="1686" height="2" fill="#32cd32"/>
<rect x="8" y="294" width="1686" height="2" fill="#4169e1"/>
<rect x="8" y="375" width="1686" height="2" fill="#4169e1"/>
<rect x="8" y="662" width="1" height="28" fill="#c0c0c0"/>
<rect x="16" y="670" width="1" height="20" fill="#c0c0c0"/>
<rect x="24" y="678" width="1" height="12" fill="#c0c0c0"/>
<rect x="32" y="684" width="1" height="6" fill="#c0c0c0"/>
<rect x="40" y="685" width="1" height="5" fill="#c0c0c0"/>
<rect x="48" y="683" width="1" height="7" fill="#c0c0c0"/>
<rect x="56" y="683" width="1" height="7" fill="#c0c0c0"/>
<rect x="64" y="668" width="1" height="22" fill="#c0c0c0"/>
<rect x="72" y="648" width="1" height="42" fill="#c0c0c0"/>
<rect x="80" y="637" width="1" height="53" fill="#c0c0c0"/>
<rect x="88" y="635" width="1" height="55" fill="#c0c0c0"/>
<rect x="96" y="634" width="1" height="56" fill="#c0c0c0"/>
<rect x="104" y="629" width="1" height="61" fill="#c0c0c0"/>
<rect x="112" y="622" width="1" height="68" fill="#c0c0c0"/>
<rect x="120" y="618" width="1" height="72" fill="#c0c0c0"/>
<rect x="128" y="609" width="1" height="81" fill="#c0c0c0"/>
<rect x="136" y="602" width="1" height="88" fill="#c0c0c0"/>
<rect x="144" y="595" width="1" height="95" fill="#c0c0c0"/>
<rect x="152" y="587" width="1" height="103" fill="#c0c0c0"/>
<rect x="160" y="580" width="1" height="110" fill="#c0c0c0"/>
<rect x="168" y="579" width="1" height="111" fill="#c0c0c0"/>
<rect x="176" y="584" width="1" height="106" fill="#c0c0c0"/>
<rect x="184" y="589" width="1" height="101" fill="#c0c0c0"/>
<rect x="192" y="595" width="1" height="95" fill="#c0c0c0"/>
<rect x="200" y="601" width="1" height="89" fill="#c0c0c0"/>
<rect x="208" y="608" width="1" height="82" fill="#c0c0c0"/>
<rect x="216" y="608" width="1" height="82" fill="#c0c0c0"/>
<rect x="224" y="618" width="1" height="72" fill="#c0c0c0"/>
<rect x="232" y="628" width="1" height="62" fill="#c0c0c0"/>
<rect x="240" y="641" width="1" height="49" fill="#c0c0c0"/>
<rect x="248" y="650" width="1" height="40" fill="#c0c0c0"/>
<rect x="256" y="656" width="1" height="34" fill="#c0c0c0"/>
<rect x="264" y="664" width="1" height="26" fill="#c0c0c0"/>
<rect x="272" y="671" width="1" height="19" fill="#c0c0c0"/>
<rect x="280" y="678" width="1" height="12" fill="#c0c0c0"/>
<rect x="288" y="680" width="1" height="10" fill="#c0c0c0"/>
<rect x="296" y="681" width="1" height="9" fill="#c0c0c0"/>
<rect x="304" y="679" width="1" height="11" fill="#c0c0c0"/>
<rect x="312" y="674" width="1" height="16" fill="#c0c0c0"/>
<rect x="320" y="668" width="1" height="22" fill="#c0c0c0"/>
<rect x="328" y="666" width="1" height="24" fill="#c0c0c0"/>
<rect x="336" y="664" width="1" height="26" fill="#c0c0c0"/>
<rect x="344" y="662" width="1" height="28" fill="#c0c0c0"/>
<rect x="352" y="663" width="1" height="27" fill="#c0c0c0"/>
<rect x="360" y="664" width="1" height="26" fill="#c0c0c0"/>
<rect x="368" y="667" width="1" height="23" fill="#c0c0c0"/>
<rect x="376" y="667" width="1" height="23" fill="#c0c0c0"/>
<rect x="384" y="668" width="1" height="22" fill="#c0c0c0"/>
<rect x="392" y="668" width="1" height="22" fill="#c0c0c0"/>
<rect x="400" y="669" width="1" height="21" fill="#c0c0c0"/>
<rect x="408" y="663" width="1" height="27" fill="#c0c0c0"/>
<rect x="416" y="661" width="1" height="29" fill="#c0c0c0"/>
<rect x="424" y="661" width="1" height="29" fill="#c0c0c0"/>
<rect x="432" y="661" width="1" height="29" fill="#c0c0c0"/>
<rect x="440" y="662" width="1" height="28" fill="#c0c0c0"/>
<rect x="448" y="661" width="1" height="29" fill="#c0c0c0"/>
<rect x="456" y="664" width="1" height="26" fill="#c0c0c0"/>
<rect x="464" y="665" width="1" height="25" fill="#c0c0c0"/>
<rect x="472" y="663" width="1" height="27" fill="#c0c0c0"/>
<rect x="480" y="666" width="1" height="24" fill="#c0c0c0"/>
<rect x="488" y="666" width="1" height="24" fill="#c0c0c0"/>
<rect x="496" y="668" width="1" height="22" fill="#c0c0c0"/>
<rect x="504" y="665" width="1" height="25" fill="#c0c0c0"/>
<rect x="512" y="666" width="1" height="24" fill="#c0c0c0"/>
<rect x="520" y="664" width="1" height="26" fill="#c0c0c0"/>
<rect x="528" y="661" width="1" height="29" fill="#c0c0c0"/>
<rect x="536" y="659" width="1" height="31" fill="#c0c0c0"/>
<rect x="544" y="658" width="1" height="32" fill="#c0c0c0"/>
<rect x="552" y="653" width="1" height="37" fill="#c0c0c0"/>
<rect x="560" y="652" width="1" height="38" fill="#c0c0c0"/>
<rect x="568" y="650" width="1" height="40" fill="#c0c0c0"/>
<rect x="576" y="649" width="1" height="41" fill="#c0c0c0"/>
<rect x="584" y="647" width="1" height="43" fill="#c0c0c0"/>
<rect x="592" y="643" width="1" height="47" fill="#c0c0c0"/>
<rect x="600" y="641" width="1" height="49" fill="#c0c0c0"/>
<rect x="608" y="640" width="1" height="50" fill="#c0c0c0"/>
<rect x="616" y="628" width="1" height="62" fill="#c0c0c0"/>
<rect x="624" y="620" width="1" height="70" fill="#c0c0c0"/>
<rect x="632" y="614" width="1" height="76" fill="#c0c0c0"/>
<rect x="640" y="606" width="1" height="84" fill="#c0c0c0"/>
<rect x="648" y="600" width="1" height="90" fill="#c0c0c0"/>
<rect x="656" y="599" width="1" height="91" fill="#c0c0c0"/>
<rect x="664" y="598" width="1" height="92" fill="#c0c0c0"/>
<rect x="672" y="596" width="1" height="94" fill="#c0c0c0"/>
<rect x="680" y="593" width="1" height="97" fill="#c0c0c0"/>
<rect x="688" y="592" width="1" height="98" fill="#c0c0c0"/>
<rect x="696" y="595" width="1" height="95" fill="#c0c0c0"/>
<rect x="704" y="601" width="1" height="89" fill="#c0c0c0"/>
<rect x="712" y="608" width="1" height="82" fill="#c0c0c0"/>
<rect x="720" y="615" width="1" height="75" fill="#c0c0c0"/>
<rect x="728" y="621" width="1" height="69" fill="#c0c0c0"/>
<rect x="736" y="627" width="1" height="63" fill="#c0c0c0"/>
<rect x="744" y="634" width="1" height="56" fill="#c0c0c0"/>
<rect x="752" y="634" width="1" height="56" fill="#c0c0c0"/>
<rect x="760" y="636" width="1" height="54" fill="#c0c0c0"/>
<rect x="768" y="637" width="1" height="53" fill="#c0c0c0"/>
<rect x="776" y="641" width="1" height="49" fill="#c0c0c0"/>
<rect x="784" y="645" width="1" height="45" fill="#c0c0c0"/>
<rect x="792" y="652" width="1" height="38" fill="#c0c0c0"/>
<rect x="800" y="656" width="1" height="34" fill="#c0c0c0"/>
<rect x="808" y="658" width="1" height="32" fill="#c0c0c0"/>
<rect x="816" y="657" width="1" height="33" fill="#c0c0c0"/>
<rect x="824" y="659" width="1" height="31" fill="#c0c0c0"/>
<rect x="832" y="662" width="1" height="28" fill="#c0c0c0"/>
<rect x="840" y="665" width="1" height="25" fill="#c0c0c0"/>
<rect x="848" y="666" width="1" height="24" fill="#c0c0c0"/>
<rect x="856" y="674" width="1" height="16" fill="#c0c0c0"/>
<rect x="864" y="678" width="1" height="12" fill="#c0c0c0"/>
<rect x="872" y="686" width="1" height="4" fill="#c0c0c0"/>
<rect x="880" y="689" width="1" height="1" fill="#c0c0c0"/>
<rect x="888" y="689" width="1" height="4" fill="#c0c0c0"/>
<rect x="896" y="689" width="1" height="6" fill="#c0c0c0"/>
<rect x="904" y="689" width="1" height="1" fill="#c0c0c0"/>
<rect x="912" y="688" width="1" height="2" fill="#c0c0c0"/>
<rect x="920" y="687" width="1" height="3" fill="#c0c0c0"/>
<rect x="928" y="683" width="1" height="7" fill="#c0c0c0"/>
<rect x="936" y="679" width="1" height="11" fill="#c0c0c0"/>
<rect x="944" y="680" width="1" height="10" fill="#c0c0c0"/>
<rect x="952" y="677" width="1" height="13" fill="#c0c0c0"/>
<rect x="960" y="672" width="1" height="18" fill="#c0c0c0"/>
<rect x="968" y="669" width="1" height="21" fill="#c0c0c0"/>
<rect x="976" y="661" width="1" height="29" fill="#c0c0c0"/>
<rect x="984" y="655" width="1" height="35" fill="#c0c0c0"/>
<rect x="992" y="653" width="1" height="37" fill="#c0c0c0"/>
<rect x="1000" y="652" width="1" height="38" fill="#c0c0c0"/>
<rect x="1008" y="652" width="1" height="38" fill="#c0c0c0"/>
<rect x="1016" y="652" width="1" height="38" fill="#c0c0c0"/>
<rect x="1024" y="652" width="1" height="38" fill="#c0c0c0"/>
<rect x="1032" y="654" width="1" height="36" fill="#c0c0c0"/>
<rect x="1040" y="655" width="1" height="35" fill="#c0c0c0"/>
<rect x="1048" y="659" width="1" height="31" fill="#c0c0c0"/>
<rect x="1056" y="661" width="1" height="29" fill="#c0c0c0"/>
<rect x="1064" y="665" width="1" height="25" fill="#c0c0c0"/>
<rect x="1072" y="669" width="1" height="21" fill="#c0c0c0"/>
<rect x="1080" y="673" width="1" height="17" fill="#c0c0c0"/>
<rect x="1088" y="677" width="1" height="13" fill="#c0c0c0"/>
<rect x="1096" y="680" width="1" height="10" fill="#c0c0c0"/>
<rect x="1104" y="681" width="1" height="9" fill="#c0c0c0"/>
<rect x="1112" y="682" width="1" height="8" fill="#c0c0c0"/>
<rect x="1120" y="684" width="1" height="6" fill="#c0c0c0"/>
<rect x="1128" y="687" width="1" height="3" fill="#c0c0c0"/>
<rect x="1136" y="686" width="1" height="4" fill="#c0c0c0"/>
<rect x="1144" y="685" width="1" height="5" fill="#c0c0c0"/>
<rect x="1152" y="688" width="1" height="2" fill="#c0c0c0"/>
<rect x="1160" y="689" width="1" height="1" fill="#c0c0c0"/>
<rect x="1168" y="688" width="1" height="2" fill="#c0c0c0"/>
<rect x="1176" y="687" width="1" height="3" fill="#c0c0c0"/>
<rect x="1184" y="687" width="1" height="3" fill="#c0c0c0"/>
<rect x="1192" y="682" width="1" height="8" fill="#c0c0c0"/>
<rect x="1200" y="667" width="1" height="23" fill="#c0c0c0"/>
<rect x="1208" y="662" width="1" height="28" fill="#c0c0c0"/>
<rect x="1216" y="656" width="1" height="34" fill="#c0c0c0"/>
<rect x="1224" y="654" width="1" height="36" fill="#c0c0c0"/>
<rect x="1232" y="651" width="1" height="39" fill="#c0c0c0"/>
<rect x="1240" y="652" width="1" height="38" fill="#c0c0c0"/>
<rect x="1248" y="653" width="1" height="37" fill="#c0c0c0"/>
<rect x="1256" y="656" width="1" height="34" fill="#c0c0c0"/>
<rect x="1264" y="658" width="1" height="32" fill="#c0c0c0"/>
<rect x="1272" y="660" width="1" height="30" fill="#c0c0c0"/>
<rect x="1280" y="660" width="1" height="30" fill="#c0c0c0"/>
<rect x="1288" y="658" width="1" height="32" fill="#c0c0c0"/>
<rect x="1296" y="657" width="1" height="33" fill="#c0c0c0"/>
<rect x="1304" y="665" width="1" height="25" fill="#c0c0c0"/>
<rect x="1312" y="664" width="1" height="26" fill="#c0c0c0"/>
<rect x="1320" y="664" width="1" height="26" fill="#c0c0c0"/>
<rect x="1328" y="665" width="1" height="25" fill="#c0c0c0"/>
<rect x="1336" y="669" width="1" height="21" fill="#c0c0c0"/>
<rect x="1344" y="669" width="1" height="21" fill="#c0c0c0"/>
<rect x="1352" y="664" width="1" height="26" fill="#c0c0c0"/>
<rect x="1360" y="659" width="1" height="31" fill="#c0c0c0"/>
<rect x="1368" y="657" width="1" height="33" fill="#c0c0c0"/>
<rect x="1376" y="656" width="1" height="34" fill="#c0c0c0"/>
<rect x="1384" y="655" width="1" height="35" fill="#c0c0c0"/>
<rect x="1392" y="654" width="1" height="36" fill="#c0c0c0"/>
<rect x="1400" y="657" width="1" height="33" fill="#c0c0c0"/>
<rect x="1408" y="655" width="1" height="35" fill="#c0c0c0"/>
<rect x="1416" y="652" width="1" height="38" fill="#c0c0c0"/>
<rect x="1424" y="647" width="1" height="43" fill="#c0c0c0"/>
<rect x="1432" y="641" width="1" height="49" fill="#c0c0c0"/>
<rect x="1440" y="641" width="1" height="49" fill="#c0c0c0"/>
<rect x="1448" y="640" width="1" height="50" fill="#c0c0c0"/>
<rect x="1456" y="639" width="1" height="51" fill="#c0c0c0"/>
<rect x="1464" y="639" width="1" height="51" fill="#c0c0c0"/>
<rect x="1472" y="639" width="1" height="51" fill="#c0c0c0"/>
<rect x="1480" y="641" width="1" height="49" fill="#c0c0c0"/>
<rect x="1488" y="643" width="1" height="47" fill="#c0c0c0"/>
<rect x="1496" y="638" width="1" height="52" fill="#c0c0c0"/>
<rect x="1504" y="636" width="1" height="54" fill="#c0c0c0"/>
<rect x="1512" y="634" width="1" height="56" fill="#c0c0c0"/>
<rect x="1520" y="638" width="1" height="52" fill="#c0c0c0"/>
<rect x="1528" y="650" width="1" height="40" fill="#c0c0c0"/>
<rect x="1536" y="659" width="1" height="31" fill="#c0c0c0"/>
<rect x="1544" y="669" width="1" height="21" fill="#c0c0c0"/>
<rect x="1552" y="677" width="1" height="13" fill="#c0c0c0"/>
<rect x="1560" y="679" width="1" height="11" fill="#c0c0c0"/>
<rect x="1568" y="682" width="1" height="8" fill="#c0c0c0"/>
<rect x="1576" y="685" width="1" height="5" fill="#c0c0c0"/>
<rect x="1584" y="689" width="1" height="3" fill="#c0c0c0"/>
<rect x="1592" y="689" width="1" height="7" fill="#c0c0c0"/>
<rect x="1600" y="689" width="1" height="10" fill="#c0c0c0"/>
<rect x="1608" y="689" width="1" height="16" fill="#c0c0c0"/>
<rect x="1616" y="689" width="1" height="20" fill="#c0c0c0"/>
<rect x="1624" y="689" width="1" height="27" fill="#c0c0c0"/>
<rect x="1632" y="689" width="1" height="31" fill="#c0c0c0"/>
<rect x="1640" y="689" width="1" height="30" fill="#c0c0c0"/>
<rect x="1648" y="689" width="1" height="21" fill="#c0c0c0"/>
<rect x="1656" y="689" width="1" height="14" fill="#c0c0c0"/>
<rect x="1664" y="689" width="1" height="8" fill="#c0c0c0"/>
<rect x="1672" y="689" width="1" height="1" fill="#c0c0c0"/>
<polyline points="8.5,641.8 16.5,645.7 24.5,650.7 32.5,656.0 40.5,662.2 48.5,667.6 56.5,671.1 64.5,673.2 72.5,672.9 80.5,670.2 88.5,666.3 96.5,662.2 104.5,655.6 112.5,649.4 120.5,641.8 128.5,633.4 136.5,625.8 144.5,618.7 152.5,613.3 160.5,608.0 168.5,601.8 176.5,596.4 184.5,592.9 192.5,591.1 200.5,589.3 208.5,590.0 216.5,592.0 224.5,595.6 232.5,600.0 240.5,606.2 248.5,614.2 256.5,621.3 264.5,629.3 272.5,637.3 280.5,644.4 288.5,652.4 296.5,660.0 304.5,665.8 312.5,669.3 320.5,671.5 328.5,672.5 336.5,673.8 344.5,672.4 352.5,670.6 360.5,669.0 368.5,667.2 376.5,665.2 384.5,664.5 392.5,665.4 400.5,665.4 408.5,665.4 416.5,665.2 424.5,664.5 432.5,664.5 440.5,663.5 448.5,663.1 456.5,662.6 464.5,662.2 472.5,661.3 480.5,662.6 488.5,662.6 496.5,663.5 504.5,663.5 512.5,664.4 520.5,664.4 528.5,664.4 536.5,663.5 544.5,663.3 552.5,661.3 560.5,660.1 568.5,658.3 576.5,656.0 584.5,654.7 592.5,651.2 600.5,648.9 608.5,648.0 616.5,644.4 624.5,640.5 632.5,636.1 640.5,632.0 648.5,624.9 656.5,619.6 664.5,615.6 672.5,610.7 680.5,605.0 688.5,600.9 696.5,599.1 704.5,597.3 712.5,597.3 720.5,598.8 728.5,601.4 736.5,604.4 744.5,608.9 752.5,613.3 760.5,617.8 768.5,623.1 776.5,627.2 784.5,630.8 792.5,635.0 800.5,639.1 808.5,642.7 816.5,645.3 824.5,648.0 832.5,651.2 840.5,654.6 848.5,656.9 856.5,660.4 864.5,663.6 872.5,665.9 880.5,670.2 888.5,674.1 896.5,678.6 904.5,681.2 912.5,684.4 920.5,686.2 928.5,687.5 936.5,687.5 944.5,687.5 952.5,685.3 960.5,683.6 968.5,680.0 976.5,676.1 984.5,673.2 992.5,669.3 1000.5,665.4 1008.5,662.8 1016.5,659.6 1024.5,656.9 1032.5,655.1 1040.5,653.7 1048.5,653.7 1056.5,653.7 1064.5,655.1 1072.5,657.4 1080.5,659.0 1088.5,662.2 1096.5,665.4 1104.5,668.4 1112.5,671.1 1120.5,674.7 1128.5,677.7 1136.5,679.5 1144.5,681.4 1152.5,683.2 1160.5,684.4 1168.5,685.3 1176.5,685.3 1184.5,686.2 1192.5,685.3 1200.5,683.6 1208.5,681.2 1216.5,677.3 1224.5,674.7 1232.5,669.3 1240.5,665.2 1248.5,663.1 1256.5,658.7 1264.5,655.6 1272.5,655.5 1280.5,654.6 1288.5,655.1 1296.5,655.5 1304.5,657.4 1312.5,658.3 1320.5,659.6 1328.5,660.4 1336.5,661.3 1344.5,662.8 1352.5,663.5 1360.5,663.5 1368.5,663.5 1376.5,662.2 1384.5,661.3 1392.5,660.4 1400.5,659.2 1408.5,656.9 1416.5,654.6 1424.5,653.3 1432.5,651.2 1440.5,650.1 1448.5,648.9 1456.5,646.2 1464.5,644.1 1472.5,642.3 1480.5,641.2 1488.5,640.5 1496.5,639.1 1504.5,638.6 1512.5,638.6 1520.5,638.6 1528.5,639.5 1536.5,640.9 1544.5,644.4 1552.5,648.4 1560.5,652.1 1568.5,657.4 1576.5,663.1 1584.5,669.7 1592.5,676.1 1600.5,680.9 1608.5,687.1 1616.5,691.6 1624.5,696.0 1632.5,700.4 1640.5,705.2 1648.5,707.9 1656.5,709.0 1664.5,709.3 1672.5,708.4" fill="none" stroke="#ff0000" stroke-width="1" shape-rendering="crispEdges" stroke-linejoin="round" stroke-dasharray="3 3"/>
<line x1="8" y1="775.5" x2="1693" y2="775.5" stroke="#c0c0c0" stroke-width="1" stroke-dasharray="3 3"/>
<line x1="8" y1="832.5" x2="1693" y2="832.5" stroke="#c0c0c0" stroke-width="1" stroke-dasharray="3 3"/>
<polyline points="8.5,809.2 16.5,809.2 24.5,813.1 32.5,811.3 40.5,805.3 48.5,798.3 56.5,800.4 64.5,780.1 72.5,773.5 80.5,779.2 88.5,790.2 96.5,790.2 104.5,785.3 112.5,781.3 120.5,781.3 128.5,776.6 136.5,774.5 144.5,773.1 152.5,769.3 160.5,768.3 168.5,774.0 176.5,784.9 184.5,786.5 192.5,786.5 200.5,787.5 208.5,789.3 216.5,781.5 224.5,798.8 232.5,802.7 240.5,807.5 248.5,806.5 256.5,803.5 264.5,809.2 272.5,809.2 280.5,810.5 288.5,804.0 296.5,802.3 304.5,798.3 312.5,790.2 320.5,786.5 328.5,792.2 336.5,793.5 344.5,790.2 352.5,794.0 360.5,797.4 368.5,802.3 376.5,794.3 384.5,798.3 392.5,796.6 400.5,795.4 408.5,784.4 416.5,789.1 424.5,791.4 432.5,792.2 440.5,795.4 448.5,789.3 456.5,799.2 464.5,795.4 472.5,790.5 480.5,799.2 488.5,795.4 496.5,799.2 504.5,789.3 512.5,797.4 520.5,789.3 528.5,789.3 536.5,788.4 544.5,788.2 552.5,780.4 560.5,786.2 568.5,784.4 576.5,783.2 584.5,779.9 592.5,775.7 600.5,778.3 608.5,776.3 616.5,762.4 624.5,762.4 632.5,762.4 640.5,758.4 648.5,759.6 656.5,765.3 664.5,765.3 672.5,762.2 680.5,760.1 688.5,759.2 696.5,773.1 704.5,778.3 712.5,786.2 720.5,787.5 728.5,787.5 736.5,787.5 744.5,796.2 752.5,781.5 760.5,784.4 768.5,782.3 776.5,791.9 784.5,795.4 792.5,801.3 800.5,800.6 808.5,794.0 816.5,787.5 824.5,794.5 832.5,799.2 840.5,799.2 848.5,794.5 856.5,813.9 864.5,808.4 872.5,815.3 880.5,816.5 888.5,809.2 896.5,810.5 904.5,797.4 912.5,794.5 920.5,801.3 928.5,795.7 936.5,792.2 944.5,800.4 952.5,795.7 960.5,789.6 968.5,790.5 976.5,781.5 984.5,780.1 992.5,786.2 1000.5,789.3 1008.5,789.3 1016.5,787.4 1024.5,789.3 1032.5,789.3 1040.5,791.4 1048.5,798.3 1056.5,796.2 1064.5,800.6 1072.5,804.0 1080.5,808.4 1088.5,806.5 1096.5,807.5 1104.5,802.7 1112.5,802.3 1120.5,805.3 1128.5,810.5 1136.5,798.8 1144.5,797.4 1152.5,811.3 1160.5,807.0 1168.5,800.5 1176.5,797.4 1184.5,801.3 1192.5,787.9 1200.5,767.4 1208.5,786.5 1216.5,783.6 1224.5,788.4 1232.5,785.3 1240.5,794.3 1248.5,793.5 1256.5,796.6 1264.5,796.6 1272.5,795.4 1280.5,792.2 1288.5,786.5 1296.5,787.5 1304.5,810.5 1312.5,795.4 1320.5,795.4 1328.5,798.3 1336.5,802.3 1344.5,796.2 1352.5,786.5 1360.5,787.5 1368.5,788.4 1376.5,788.4 1384.5,789.3 1392.5,787.5 1400.5,796.2 1408.5,787.9 1416.5,784.4 1424.5,778.3 1432.5,775.2 1440.5,788.2 1448.5,784.4 1456.5,783.4 1464.5,783.6 1472.5,784.4 1480.5,787.4 1488.5,786.5 1496.5,773.5 1504.5,778.3 1512.5,777.5 1520.5,793.1 1528.5,809.2 1536.5,809.2 1544.5,815.3 1552.5,814.3 1560.5,804.0 1568.5,806.1 1576.5,808.2 1584.5,819.1 1592.5,812.2 1600.5,813.4 1608.5,819.1 1616.5,820.5 1624.5,826.4 1632.5,823.1 1640.5,810.5 1648.5,795.4 1656.5,797.4 1664.5,795.4 1672.5,791.4" fill="none" stroke="#1e90ff" stroke-width="1" shape-rendering="crispEdges" stroke-linejoin="round"/>
<rect x="1694" y="36" width="2" height="1" fill="#000"/>
<rect x="1694" y="69" width="2" height="1" fill="#000"/>
<rect x="1694" y="135" width="2" height="1" fill="#000"/>
<rect x="1694" y="168" width="2" height="1" fill="#000"/>
<rect x="1694" y="201" width="2" height="1" fill="#000"/>
<rect x="1694" y="234" width="2" height="1" fill="#000"/>
<rect x="1694" y="267" width="2" height="1" fill="#000"/>
<rect x="1694" y="300" width="2" height="1" fill="#000"/>
<rect x="1694" y="333" width="2" height="1" fill="#000"/>
<rect x="1694" y="366" width="2" height="1" fill="#000"/>
<rect x="1694" y="399" width="2" height="1" fill="#000"/>
<rect x="1694" y="432" width="2" height="1" fill="#000"/>
<rect x="1694" y="465" width="2" height="1" fill="#000"/>
<rect x="1694" y="498" width="2" height="1" fill="#000"/>
<rect x="1694" y="531" width="2" height="1" fill="#000"/>
<rect x="1694" y="564" width="2" height="1" fill="#000"/>
<rect x="1694" y="571" width="1" height="1" fill="#000"/>
<rect x="1694" y="689" width="2" height="1" fill="#000"/>
<rect x="1694" y="732" width="1" height="1" fill="#000"/>
<rect x="1694" y="727" width="1" height="1" fill="#000"/>
<rect x="8" y="877" width="1" height="3" fill="#000"/>
<rect x="72" y="877" width="1" height="3" fill="#000"/>
<rect x="136" y="877" width="1" height="3" fill="#000"/>
<rect x="200" y="877" width="1" height="3" fill="#000"/>
<rect x="264" y="877" width="1" height="3" fill="#000"/>
<rect x="328" y="877" width="1" height="3" fill="#000"/>
<rect x="392" y="877" width="1" height="3" fill="#000"/>
<rect x="456" y="877" width="1" height="3" fill="#000"/>
<rect x="520" y="877" width="1" height="3" fill="#000"/>
<rect x="584" y="877" width="1" height="3" fill="#000"/>
<rect x="648" y="877" width="1" height="3" fill="#000"/>
<rect x="712" y="877" width="1" height="3" fill="#000"/>
<rect x="776" y="877" width="1" height="3" fill="#000"/>
<rect x="840" y="877" width="1" height="3" fill="#000"/>
<rect x="904" y="877" width="1" height="3" fill="#000"/>
<rect x="968" y="877" width="1" height="3" fill="#000"/>
<rect x="1032" y="877" width="1" height="3" fill="#000"/>
<rect x="1096" y="877" width="1" height="3" fill="#000"/>
<rect x="1160" y="877" width="1" height="3" fill="#000"/>
<rect x="1224" y="877" width="1" height="3" fill="#000"/>
<rect x="1288" y="877" width="1" height="3" fill="#000"/>
<rect x="1352" y="877" width="1" height="3" fill="#000"/>
<rect x="1416" y="877" width="1" height="3" fill="#000"/>
<rect x="1480" y="877" width="1" height="3" fill="#000"/>
<rect x="1544" y="877" width="1" height="3" fill="#000"/>
<rect x="1608" y="877" width="1" height="3" fill="#000"/>
<rect x="1672" y="877" width="1" height="3" fill="#000"/>
<rect x="1695" y="49" width="33" height="11" fill="#ff0000"/>
<rect x="1695" y="100" width="33" height="11" fill="#000"/>
<rect x="1695" y="189" width="33" height="11" fill="#32cd32"/>
<rect x="1695" y="289" width="33" height="11" fill="#4169e1"/>
<rect x="1695" y="370" width="33" height="11" fill="#4169e1"/>
<g font-family="'Liberation Sans', sans-serif" shape-rendering="auto" text-rendering="geometricPrecision">
<text x="1699" y="40.0" font-size="9.8" fill="#000" stroke="#000" stroke-width="0.15" textLength="27.6" lengthAdjust="spacingAndGlyphs">49.990</text>
<text x="1699" y="73.0" font-size="9.8" fill="#000" stroke="#000" stroke-width="0.15" textLength="27.6" lengthAdjust="spacingAndGlyphs">49.150</text>
<text x="1699" y="139.0" font-size="9.8" fill="#000" stroke="#000" stroke-width="0.15" textLength="27.6" lengthAdjust="spacingAndGlyphs">47.510</text>
<text x="1699" y="172.0" font-size="9.8" fill="#000" stroke="#000" stroke-width="0.15" textLength="27.6" lengthAdjust="spacingAndGlyphs">46.690</text>
<text x="1699" y="205.0" font-size="9.8" fill="#000" stroke="#000" stroke-width="0.15" textLength="27.6" lengthAdjust="spacingAndGlyphs">45.850</text>
<text x="1699" y="238.0" font-size="9.8" fill="#000" stroke="#000" stroke-width="0.15" textLength="27.6" lengthAdjust="spacingAndGlyphs">45.030</text>
<text x="1699" y="271.0" font-size="9.8" fill="#000" stroke="#000" stroke-width="0.15" textLength="27.6" lengthAdjust="spacingAndGlyphs">44.210</text>
<text x="1699" y="304.0" font-size="9.8" fill="#000" stroke="#000" stroke-width="0.15" textLength="27.6" lengthAdjust="spacingAndGlyphs">43.390</text>
<text x="1699" y="337.0" font-size="9.8" fill="#000" stroke="#000" stroke-width="0.15" textLength="27.6" lengthAdjust="spacingAndGlyphs">42.570</text>
<text x="1699" y="370.0" font-size="9.8" fill="#000" stroke="#000" stroke-width="0.15" textLength="27.6" lengthAdjust="spacingAndGlyphs">41.730</text>
<text x="1699" y="403.0" font-size="9.8" fill="#000" stroke="#000" stroke-width="0.15" textLength="27.6" lengthAdjust="spacingAndGlyphs">40.910</text>
<text x="1699" y="436.0" font-size="9.8" fill="#000" stroke="#000" stroke-width="0.15" textLength="27.6" lengthAdjust="spacingAndGlyphs">40.090</text>
<text x="1699" y="469.0" font-size="9.8" fill="#000" stroke="#000" stroke-width="0.15" textLength="27.6" lengthAdjust="spacingAndGlyphs">39.270</text>
<text x="1699" y="502.0" font-size="9.8" fill="#000" stroke="#000" stroke-width="0.15" textLength="27.6" lengthAdjust="spacingAndGlyphs">38.430</text>
<text x="1699" y="535.0" font-size="9.8" fill="#000" stroke="#000" stroke-width="0.15" textLength="27.6" lengthAdjust="spacingAndGlyphs">37.610</text>
<text x="1699" y="568.0" font-size="9.8" fill="#000" stroke="#000" stroke-width="0.15" textLength="27.6" lengthAdjust="spacingAndGlyphs">36.790</text>
</g>
<rect x="1695" y="289" width="33" height="11" fill="#4169e1"/>
<rect x="1695" y="189" width="33" height="11" fill="#32cd32"/>
<g font-family="'Liberation Sans', sans-serif" shape-rendering="auto" text-rendering="geometricPrecision">
<text x="1699" y="58" font-size="9.8" fill="#fff" stroke="#fff" stroke-width="0.3" textLength="27.6" lengthAdjust="spacingAndGlyphs">49.500</text>
<text x="1699" y="109" font-size="9.8" fill="#fff" stroke="#fff" stroke-width="0.3" textLength="27.6" lengthAdjust="spacingAndGlyphs">48.270</text>
<text x="1699" y="198" font-size="9.8" fill="#fff" stroke="#fff" stroke-width="0.3" textLength="27.6" lengthAdjust="spacingAndGlyphs">46.000</text>
<text x="1699" y="298" font-size="9.8" fill="#fff" stroke="#fff" stroke-width="0.3" textLength="27.6" lengthAdjust="spacingAndGlyphs">43.500</text>
<text x="1699" y="379" font-size="9.8" fill="#fff" stroke="#fff" stroke-width="0.3" textLength="27.6" lengthAdjust="spacingAndGlyphs">41.500</text>
<text x="1698" y="580.3" font-size="9.8" fill="#000" stroke="#000" stroke-width="0.15" textLength="27" lengthAdjust="spacingAndGlyphs">1.1646</text>
<text x="1698" y="693" font-size="9.8" fill="#000" stroke="#000" stroke-width="0.15" textLength="17" lengthAdjust="spacingAndGlyphs">0.00</text>
<text x="1697" y="724.6" font-size="9.8" fill="#000" stroke="#000" stroke-width="0.15" textLength="31" lengthAdjust="spacingAndGlyphs">-0.3812</text>
<text x="1697" y="740.8" font-size="9.8" fill="#000" stroke="#000" stroke-width="0.15" textLength="15" lengthAdjust="spacingAndGlyphs">100</text>
<text x="1697" y="779" font-size="9.8" fill="#000" stroke="#000" stroke-width="0.15" textLength="10" lengthAdjust="spacingAndGlyphs">70</text>
<text x="1697" y="836" font-size="9.8" fill="#000" stroke="#000" stroke-width="0.15" textLength="10" lengthAdjust="spacingAndGlyphs">30</text>
<text x="1697.5" y="873" font-size="9.8" fill="#000" stroke="#000" stroke-width="0.15">0</text>
<text x="23" y="45" font-size="9.8" fill="#000" stroke="#000" stroke-width="0.15" textLength="42.8" lengthAdjust="spacingAndGlyphs">USOil-,H4</text>
<text x="72.2" y="45" font-size="9.8" fill="#000" stroke="#000" stroke-width="0.15" textLength="27.6" lengthAdjust="spacingAndGlyphs">48.020</text>
<text x="103.1" y="45" font-size="9.8" fill="#000" stroke="#000" stroke-width="0.15" textLength="27.6" lengthAdjust="spacingAndGlyphs">48.300</text>
<text x="134" y="45" font-size="9.8" fill="#000" stroke="#000" stroke-width="0.15" textLength="27.6" lengthAdjust="spacingAndGlyphs">47.910</text>
<text x="165.2" y="45" font-size="9.8" fill="#000" stroke="#000" stroke-width="0.15" textLength="27.6" lengthAdjust="spacingAndGlyphs">48.270</text>
<text x="12.5" y="582.2" font-size="9.8" fill="#000" stroke="#000" stroke-width="0.15" textLength="64.8" lengthAdjust="spacingAndGlyphs">MACD(12,26,9)</text>
<text x="80.9" y="582.2" font-size="9.8" fill="#000" stroke="#000" stroke-width="0.15" textLength="30.9" lengthAdjust="spacingAndGlyphs">-0.0073</text>
<text x="115.1" y="582.2" font-size="9.8" fill="#000" stroke="#000" stroke-width="0.15" textLength="30.5" lengthAdjust="spacingAndGlyphs">-0.1851</text>
<text x="12.2" y="743.3" font-size="9.8" fill="#000" stroke="#000" stroke-width="0.15" textLength="68" lengthAdjust="spacingAndGlyphs">RSI(14)&#160;58.6046</text>
<path d="M11 40h7l-3.5 4z" fill="#000" shape-rendering="auto"/>
<text x="7.2" y="889" font-size="9.8" fill="#000" stroke="#000" stroke-width="0.15" textLength="49" lengthAdjust="spacingAndGlyphs">6&#160;Nov&#160;2020</text>
<text x="71.2" y="889" font-size="9.8" fill="#000" stroke="#000" stroke-width="0.15" textLength="51.5" lengthAdjust="spacingAndGlyphs">9&#160;Nov&#160;12:00</text>
<text x="135.2" y="889" font-size="9.8" fill="#000" stroke="#000" stroke-width="0.15" textLength="57.2" lengthAdjust="spacingAndGlyphs">10&#160;Nov&#160;20:00</text>
<text x="199.2" y="889" font-size="9.8" fill="#000" stroke="#000" stroke-width="0.15" textLength="57.2" lengthAdjust="spacingAndGlyphs">12&#160;Nov&#160;04:00</text>
<text x="263.2" y="889" font-size="9.8" fill="#000" stroke="#000" stroke-width="0.15" textLength="57.2" lengthAdjust="spacingAndGlyphs">13&#160;Nov&#160;12:00</text>
<text x="327.2" y="889" font-size="9.8" fill="#000" stroke="#000" stroke-width="0.15" textLength="57.2" lengthAdjust="spacingAndGlyphs">16&#160;Nov&#160;16:00</text>
<text x="391.2" y="889" font-size="9.8" fill="#000" stroke="#000" stroke-width="0.15" textLength="57.2" lengthAdjust="spacingAndGlyphs">18&#160;Nov&#160;00:00</text>
<text x="455.2" y="889" font-size="9.8" fill="#000" stroke="#000" stroke-width="0.15" textLength="57.2" lengthAdjust="spacingAndGlyphs">19&#160;Nov&#160;08:00</text>
<text x="519.2" y="889" font-size="9.8" fill="#000" stroke="#000" stroke-width="0.15" textLength="57.2" lengthAdjust="spacingAndGlyphs">20&#160;Nov&#160;16:00</text>
<text x="583.2" y="889" font-size="9.8" fill="#000" stroke="#000" stroke-width="0.15" textLength="57.2" lengthAdjust="spacingAndGlyphs">23&#160;Nov&#160;20:00</text>
<text x="647.2" y="889" font-size="9.8" fill="#000" stroke="#000" stroke-width="0.15" textLength="57.2" lengthAdjust="spacingAndGlyphs">25&#160;Nov&#160;04:00</text>
<text x="711.2" y="889" font-size="9.8" fill="#000" stroke="#000" stroke-width="0.15" textLength="57.2" lengthAdjust="spacingAndGlyphs">26&#160;Nov&#160;12:00</text>
<text x="775.2" y="889" font-size="9.8" fill="#000" stroke="#000" stroke-width="0.15" textLength="57.2" lengthAdjust="spacingAndGlyphs">29&#160;Nov&#160;23:00</text>
<text x="839.2" y="889" font-size="9.8" fill="#000" stroke="#000" stroke-width="0.15" textLength="49.3" lengthAdjust="spacingAndGlyphs">1&#160;Dec&#160;04:00</text>
<text x="903.2" y="889" font-size="9.8" fill="#000" stroke="#000" stroke-width="0.15" textLength="49.3" lengthAdjust="spacingAndGlyphs">2&#160;Dec&#160;12:00</text>
<text x="967.2" y="889" font-size="9.8" fill="#000" stroke="#000" stroke-width="0.15" textLength="49.3" lengthAdjust="spacingAndGlyphs">3&#160;Dec&#160;20:00</text>
<text x="1031.2" y="889" font-size="9.8" fill="#000" stroke="#000" stroke-width="0.15" textLength="49.3" lengthAdjust="spacingAndGlyphs">7&#160;Dec&#160;00:00</text>
<text x="1095.2" y="889" font-size="9.8" fill="#000" stroke="#000" stroke-width="0.15" textLength="49.3" lengthAdjust="spacingAndGlyphs">8&#160;Dec&#160;08:00</text>
<text x="1159.2" y="889" font-size="9.8" fill="#000" stroke="#000" stroke-width="0.15" textLength="49.3" lengthAdjust="spacingAndGlyphs">9&#160;Dec&#160;16:00</text>
<text x="1223.2" y="889" font-size="9.8" fill="#000" stroke="#000" stroke-width="0.15" textLength="54.9" lengthAdjust="spacingAndGlyphs">11&#160;Dec&#160;00:00</text>
<text x="1287.2" y="889" font-size="9.8" fill="#000" stroke="#000" stroke-width="0.15" textLength="54.9" lengthAdjust="spacingAndGlyphs">14&#160;Dec&#160;04:00</text>
<text x="1351.2" y="889" font-size="9.8" fill="#000" stroke="#000" stroke-width="0.15" textLength="54.9" lengthAdjust="spacingAndGlyphs">15&#160;Dec&#160;12:00</text>
<text x="1415.2" y="889" font-size="9.8" fill="#000" stroke="#000" stroke-width="0.15" textLength="54.9" lengthAdjust="spacingAndGlyphs">16&#160;Dec&#160;23:00</text>
<text x="1479.2" y="889" font-size="9.8" fill="#000" stroke="#000" stroke-width="0.15" textLength="54.9" lengthAdjust="spacingAndGlyphs">18&#160;Dec&#160;04:00</text>
<text x="1543.2" y="889" font-size="9.8" fill="#000" stroke="#000" stroke-width="0.15" textLength="54.9" lengthAdjust="spacingAndGlyphs">21&#160;Dec&#160;08:00</text>
<text x="1607.2" y="889" font-size="9.8" fill="#000" stroke="#000" stroke-width="0.15" textLength="54.9" lengthAdjust="spacingAndGlyphs">22&#160;Dec&#160;16:00</text>
<text x="1671.2" y="889" font-size="9.8" fill="#000" stroke="#000" stroke-width="0.15" textLength="54.9" lengthAdjust="spacingAndGlyphs">24&#160;Dec&#160;00:00</text>
<text x="135.2" y="20.5" font-size="9.8" fill="#484848" stroke="#484848" stroke-width="0.05" textLength="13" lengthAdjust="spacingAndGlyphs">M1</text>
<text x="163.4" y="20.5" font-size="9.8" fill="#484848" stroke="#484848" stroke-width="0.05" textLength="13" lengthAdjust="spacingAndGlyphs">M5</text>
<text x="188.9" y="20.5" font-size="9.8" fill="#484848" stroke="#484848" stroke-width="0.05" textLength="18.2" lengthAdjust="spacingAndGlyphs">M15</text>
<text x="217" y="20.5" font-size="9.8" fill="#484848" stroke="#484848" stroke-width="0.05" textLength="18.3" lengthAdjust="spacingAndGlyphs">M30</text>
<text x="248.2" y="20.5" font-size="9.8" fill="#484848" stroke="#484848" stroke-width="0.05" textLength="12.2" lengthAdjust="spacingAndGlyphs">H1</text>
<text x="275.3" y="20.5" font-size="9.8" fill="#484848" stroke="#484848" stroke-width="0.05" textLength="12.6" lengthAdjust="spacingAndGlyphs">H4</text>
<text x="304" y="20.5" font-size="9.8" fill="#484848" stroke="#484848" stroke-width="0.05" textLength="12.3" lengthAdjust="spacingAndGlyphs">D1</text>
<text x="332.4" y="20.5" font-size="9.8" fill="#484848" stroke="#484848" stroke-width="0.05" textLength="14" lengthAdjust="spacingAndGlyphs">W1</text>
<text x="358.4" y="20.5" font-size="9.8" fill="#484848" stroke="#484848" stroke-width="0.05" textLength="14.9" lengthAdjust="spacingAndGlyphs">MN</text>
<text x="34.6" y="22" font-size="12.4" fill="#505050" stroke="#505050" stroke-width="0.45">A</text>
</g>
<text x="1204" y="477.6" font-size="37" fill="#ed1c24" stroke="#ed1c24" stroke-width="0.2" textLength="222" lengthAdjust="spacingAndGlyphs" shape-rendering="auto" style="font-family:'Liberation Sans','Noto Sans CJK SC',sans-serif">多空转折点46</text>
</svg>
</body></html>
